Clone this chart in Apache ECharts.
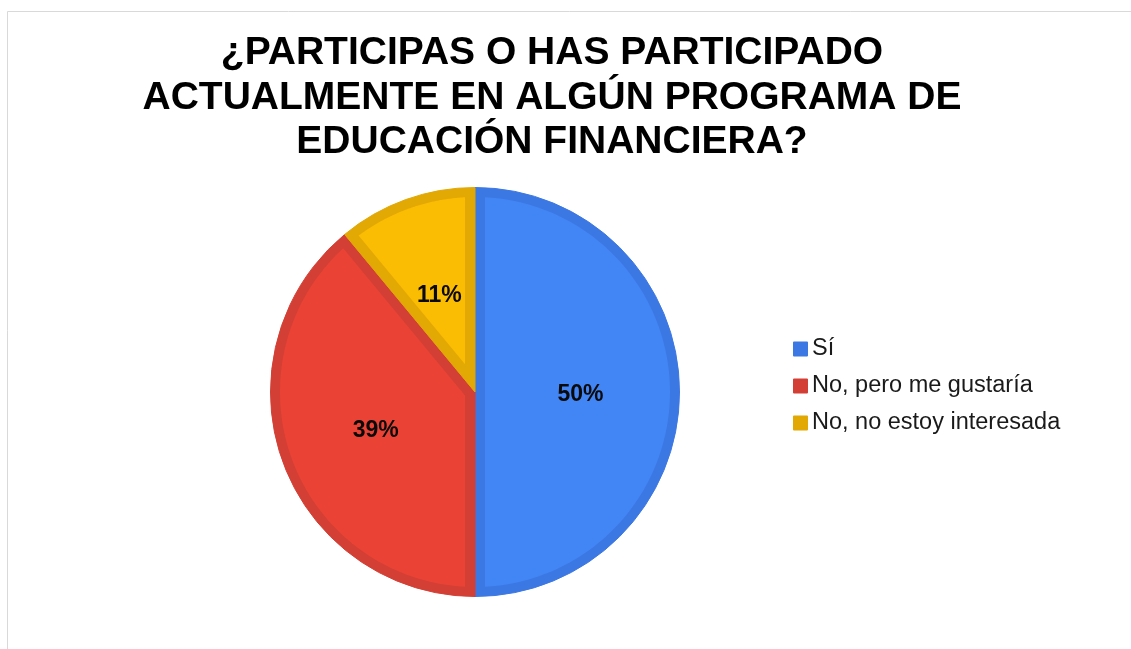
<!DOCTYPE html>
<html>
<head>
<meta charset="utf-8">
<script src="https://cdn.jsdelivr.net/npm/echarts@6/dist/echarts.min.js"></script>
<style>
html,body{margin:0;padding:0;background:#fff;}
#chart{width:1131px;height:649px;}
</style>
</head>
<body>
<div id="chart"></div>
<script>
const titleLines = ['¿PARTICIPAS O HAS PARTICIPADO', 'ACTUALMENTE EN ALGÚN PROGRAMA DE', 'EDUCACIÓN FINANCIERA?'];
const categories = ['Sí', 'No, pero me gustaría', 'No, no estoy interesada'];
const values = [50, 39, 11];
const fillColors = ['#4285F4', '#EA4335', '#FBBC04'];
const borderColors = ['#3B78E3', '#D33F34', '#E2A803'];

const FONT = '"Liberation Sans", Arial, sans-serif';
const CX = 475, CY = 392, R = 205, INSET = 10;

const chart = echarts.init(document.getElementById('chart'));

function insetShape(params, api) {
  const i = params.dataIndex;
  const total = values.reduce((a, b) => a + b, 0);
  let before = 0;
  for (let k = 0; k < i; k++) before += values[k];
  const v = api.value(0);
  const a0 = Math.PI / 2 - before / total * 2 * Math.PI;
  const a1 = a0 - v / total * 2 * Math.PI;
  const P = (r, a) => [CX + r * Math.cos(a), CY - r * Math.sin(a)];
  const half = (a0 - a1) / 2;
  const mid = (a0 + a1) / 2;
  const points = [];
  points.push(P(INSET / Math.sin(Math.min(half, Math.PI / 2)), mid));
  const Ri = R - INSET;
  const delta = Math.asin(INSET / Ri);
  const s = a0 - delta, e = a1 + delta;
  const N = 120;
  for (let n = 0; n <= N; n++) {
    points.push(P(Ri, s + (e - s) * n / N));
  }
  return {
    type: 'polygon',
    shape: { points: points },
    style: { fill: fillColors[i], stroke: null }
  };
}

const option = {
  animation: false,
  backgroundColor: '#ffffff',
  graphic: [
    {
      type: 'rect', z: -10, silent: true,
      shape: { x: 7.5, y: 11.5, width: 1300, height: 800 },
      style: { fill: '#ffffff', stroke: '#d9d9d9', lineWidth: 1 }
    },
    {
      type: 'text', z: 10, x: 552, y: 31,
      style: {
        text: titleLines.join('\n'),
        font: 'bold 39px ' + FONT,
        fill: '#000000',
        align: 'center',
        verticalAlign: 'top',
        lineHeight: 44.5
      }
    }
  ],
  legend: {
    orient: 'vertical',
    left: 788,
    top: 332,
    icon: 'rect',
    itemWidth: 13,
    itemHeight: 13,
    itemGap: 13,
    data: categories,
    textStyle: { fontSize: 23.5, fontFamily: FONT, color: '#1a1a1a', lineHeight: 24 }
  },
  series: [
    {
      type: 'pie',
      name: 'base',
      z: 1,
      center: [CX, CY],
      radius: [0, R - 0.5],
      startAngle: 90,
      clockwise: true,
      silent: true,
      label: { show: false },
      labelLine: { show: false },
      data: categories.map((c, i) => ({
        name: c, value: values[i],
        itemStyle: { color: borderColors[i], borderColor: borderColors[i], borderWidth: 1 }
      }))
    },
    {
      type: 'custom',
      name: 'fill',
      z: 2,
      coordinateSystem: 'none',
      silent: true,
      renderItem: insetShape,
      data: values.map(v => [v])
    },
    {
      type: 'pie',
      name: 'labels',
      z: 3,
      center: [CX, CY],
      radius: [0, R],
      startAngle: 90,
      clockwise: true,
      silent: true,
      legendHoverLink: false,
      percentPrecision: 0,
      label: {
        show: true,
        position: 'inside',
        formatter: '{d}%',
        fontSize: 23,
        fontWeight: 'bold',
        fontFamily: FONT,
        color: '#0a0a0a',
        offset: [0, 3]
      },
      labelLine: { show: false },
      itemStyle: { color: 'rgba(0,0,0,0)', borderWidth: 0 },
      data: categories.map((c, i) => ({ name: c, value: values[i] }))
    }
  ]
};
chart.setOption(option);
</script>
</body>
</html>
